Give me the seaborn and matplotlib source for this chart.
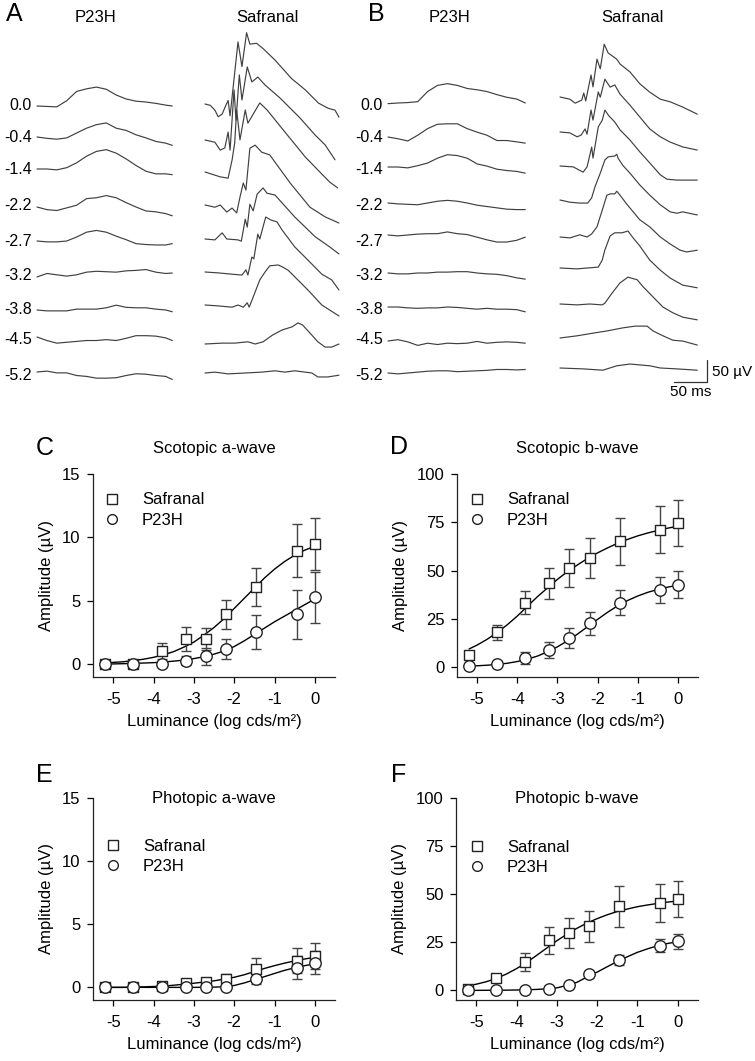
import numpy as np
import pandas as pd
import matplotlib
matplotlib.use('Agg')
import matplotlib.pyplot as plt
from matplotlib.lines import Line2D
import seaborn as sns

sns.set_style('ticks')
plt.rcParams['font.family'] = ['Liberation Sans', 'DejaVu Sans']
plt.rcParams['axes.unicode_minus'] = False
plt.rcParams['text.color'] = 'black'
plt.rcParams['axes.labelcolor'] = 'black'
plt.rcParams['xtick.color'] = 'black'
plt.rcParams['ytick.color'] = 'black'

W, H, DPI = 755, 1061, 100

# ---------------- ERG traces (time in ms, amplitude in uV) ----------------
intensities = ['0.0', '-0.4', '-1.4', '-2.2', '-2.7', '-3.2', '-3.8', '-4.5', '-5.2']

# P23H traces share one time grid
a_p23h_t = [0, 15, 30, 45, 60, 75, 90, 105, 120, 135, 150, 165, 180, 195, 205]
a_p23h_v = [
    [0, -1, -2, 12, 33, 39, 43, 38, 25, 16, 11, 9, 6, 2, 0],
    [0, -3, -5, -2, 9, 20, 28, 32, 20, 15, 5, -2, -10, -14, -19],
    [0, 0, -2, 3, 14, 29, 40, 44, 36, 23, 8, -5, -11, -11, -13],
    [0, -6, -8, -2, 4, 19, 21, 26, 21, 10, 0, -9, -11, -15, -20],
    [0, -2, -2, 0, 9, 20, 24, 20, 11, 3, -6, -8, -9, -9, -6],
    [0, 8, 5, 2, 5, 11, 13, 12, 11, 14, 15, 17, 11, 8, 9],
    [0, -2, -2, -2, 2, 2, 2, 5, 11, 6, 5, 5, 2, 0, -4],
    [0, -8, -14, -12, -10, -8, -8, -6, -8, -3, 3, 3, 2, -2, -8],
    [0, 2, -2, -2, -8, -10, -14, -14, -13, -8, -4, -5, -8, -10, -17],
]
b_p23h_t = [0, 15, 30, 45, 60, 75, 90, 105, 120, 135, 150, 165, 180, 195, 208]
b_p23h_v = [
    [-1.5, 0, 1, 3, 26, 40, 44, 40, 33, 30, 26, 19, 13, 9, 0],
    [0, -4, -9, 4, 19, 29, 30, 30, 19, 11, 4, -8, -8, -11, -14],
    [0, 0, -2, 3, 9, 20, 28, 26, 20, 7, 2, -5, -8, -10, -14],
    [0, -2, -3, -4, 0, 4, 6, 4, 0, -5, -8, -11, -14, -15, -15],
    [0, -2, 0, 2, 3, 3, 7, 3, 1, -5, -11, -16, -16, -12, -5],
    [0, -2, -2, 0, 0, 2, 2, 3, 3, 0, -2, -3, -6, -11, -14],
    [0, 0, -2, -3, -2, -2, 0, -1, -3, -5, -3, -5, -5, -6, -11],
    [0, 3, -2, -10, -5, -8, -5, -6, -5, -1, -5, -3, -2, -3, -5],
    [0, -2, 0, 2, 4, 5, 5, 3, 4, 5, 6, 8, 8, 7, 8],
]

# Safranal traces have oscillatory potentials, so each has its own sample times
a_safr_t = [
    [0, 8, 15, 20, 26, 31, 35, 38, 50, 56, 63, 68, 78, 88, 106, 131, 152, 172, 187, 197, 203],
    [0, 15, 23, 30, 35, 38, 44, 47, 52, 56, 64, 71, 80, 91, 114, 144, 167, 182, 197],
    [0, 23, 35, 41, 45, 48, 53, 61, 65, 83, 94, 121, 152, 174, 189, 201],
    [0, 15, 23, 33, 41, 48, 53, 58, 62, 68, 76, 86, 98, 129, 159, 182, 203],
    [0, 15, 26, 33, 50, 55, 61, 64, 68, 73, 79, 88, 94, 106, 136, 167, 189, 203],
    [0, 20, 41, 56, 62, 65, 71, 74, 80, 83, 92, 100, 109, 117, 136, 156, 177, 192, 203],
    [0, 20, 41, 50, 58, 64, 67, 73, 83, 91, 98, 111, 118, 126, 136, 156, 177, 203],
    [0, 26, 45, 65, 76, 88, 102, 117, 132, 141, 148, 159, 171, 182, 192, 203],
    [0, 15, 35, 61, 86, 106, 121, 136, 162, 171, 186, 203],
]
a_safr_v = [
    [0, -3, -14, -29, -23, -5, 8, -27, 141, 85, 162, 136, 138, 126, 100, 58, 32, 2, -10, -14, -30],
    [0, -5, -23, -18, 18, -23, 114, 45, 148, 91, 166, 132, 143, 125, 95, 50, 11, -11, -45],
    [0, -11, -14, 27, 66, 141, 73, 141, 111, 157, 141, 91, 34, 0, -23, -36],
    [0, -5, 0, -16, -7, -18, 18, 50, 34, 129, 136, 120, 114, 50, -5, -27, -41],
    [0, -2, 14, 0, -2, -5, 45, 27, 79, 64, 102, 116, 104, 100, 50, 5, -18, -34],
    [0, -2, -5, -7, 5, -7, 34, 30, 86, 75, 125, 118, 114, 95, 57, 27, -5, -18, -41],
    [0, -2, -5, 0, -5, 5, -5, 18, 57, 75, 89, 91, 86, 79, 64, 34, 0, -25],
    [0, 2, 2, 5, 0, 5, 20, 32, 39, 48, 43, 25, 5, -7, -7, 0],
    [0, 2, -2, 0, 2, 5, 2, 5, 0, -9, -9, -5],
]
b_safr_t = [
    [0, 15, 23, 33, 36, 39, 47, 50, 56, 61, 67, 73, 86, 91, 106, 121, 136, 152, 167, 186, 208],
    [0, 15, 26, 32, 38, 41, 47, 50, 58, 61, 68, 76, 83, 91, 106, 121, 136, 152, 167, 186, 208],
    [0, 20, 35, 41, 48, 50, 58, 64, 68, 74, 83, 91, 106, 121, 136, 152, 162, 177, 208],
    [0, 15, 30, 42, 48, 53, 61, 68, 73, 83, 86, 88, 95, 106, 121, 136, 152, 167, 177, 186, 208],
    [0, 15, 30, 41, 48, 56, 64, 71, 76, 83, 86, 91, 101, 121, 136, 152, 167, 182, 192, 208],
    [0, 26, 41, 58, 64, 68, 76, 83, 94, 103, 111, 121, 136, 152, 167, 186, 208],
    [0, 26, 45, 64, 68, 79, 91, 103, 117, 126, 141, 156, 171, 186, 208],
    [0, 26, 50, 71, 95, 114, 132, 141, 156, 171, 186, 208],
    [0, 35, 65, 86, 106, 121, 136, 152, 177, 208],
]
b_safr_v = [
    [0, -5, -14, -7, 9, -9, 50, 23, 86, 64, 120, 100, 86, 75, 57, 30, 11, -5, -11, -23, -39],
    [0, -2, -11, -7, 7, -5, 50, 27, 91, 79, 120, 102, 107, 86, 61, 34, 7, -11, -23, -34, -41],
    [0, -2, -14, -2, 43, 18, 89, 104, 127, 114, 100, 82, 59, 32, 7, -20, -30, -32, -32],
    [0, -5, -7, -7, 5, 30, 61, 91, 98, 100, 104, 95, 79, 61, 34, 11, -11, -27, -30, -27, -34],
    [0, -2, 5, 0, 7, 23, 61, 95, 98, 98, 104, 95, 75, 39, 23, 0, -16, -30, -34, -30],
    [0, -2, 0, 2, 18, 41, 73, 80, 80, 84, 68, 50, 18, -5, -23, -39, -45],
    [0, -2, 0, -2, 2, 25, 48, 61, 55, 39, 16, -7, -20, -30, -36],
    [0, 5, 11, 16, 23, 27, 27, 16, 5, -5, -7, -16],
    [0, -2, -5, 5, 9, 7, 5, 0, -2, -5],
]

# ---------------- intensity-response data ----------------
lum = [-5.2, -4.5, -3.8, -3.2, -2.7, -2.2, -1.45, -0.45, 0.0]

scot_a_safr = [0.0, 0.0, 1.05, 2.0, 2.0, 3.93, 6.1, 8.97, 9.47]
scot_a_safr_err = [0.1, 0.1, 0.65, 0.95, 0.9, 1.15, 1.5, 2.05, 2.05]
scot_a_p23h = [0.0, 0.0, 0.0, 0.3, 0.63, 1.2, 2.53, 3.93, 5.28]
scot_a_p23h_err = [0.05, 0.05, 0.1, 0.35, 0.65, 0.8, 1.35, 1.9, 2.0]

scot_b_safr = [6.4, 18.1, 33.5, 43.5, 51.3, 56.5, 65.1, 71.2, 74.6]
scot_b_safr_err = [2.2, 3.8, 6.0, 8.0, 9.7, 10.5, 12.0, 12.0, 12.0]
scot_b_p23h = [0.7, 1.7, 4.7, 9.0, 15.0, 22.8, 33.5, 40.1, 42.7]
scot_b_p23h_err = [0.5, 0.5, 3.0, 4.1, 5.1, 6.0, 6.3, 6.7, 6.9]

phot_a_safr = [0.0, 0.0, 0.1, 0.37, 0.45, 0.66, 1.45, 2.12, 2.5]
phot_a_safr_err = [0.02, 0.02, 0.05, 0.1, 0.15, 0.4, 0.85, 1.0, 1.05]
phot_a_p23h = [0.0, 0.0, 0.0, 0.0, 0.0, 0.0, 0.7, 1.56, 1.96]
phot_a_p23h_err = [0.02, 0.02, 0.02, 0.02, 0.05, 0.05, 0.4, 0.9, 0.9]

phot_b_safr = [0.5, 6.4, 14.7, 26.0, 29.8, 33.3, 43.7, 45.4, 47.5]
phot_b_safr_err = [1.0, 1.5, 4.6, 6.9, 7.6, 8.0, 10.5, 10.0, 9.3]
phot_b_p23h = [0.0, 0.0, 0.3, 0.8, 2.6, 8.5, 15.6, 23.2, 25.5]
phot_b_p23h_err = [0.2, 0.2, 0.3, 0.5, 0.8, 1.0, 2.6, 3.4, 4.0]

# fitted curves
fit_x = [-5.2, -5.0, -4.75, -4.5, -4.25, -4.0, -3.75, -3.5, -3.25, -3.0, -2.75,
         -2.5, -2.25, -2.0, -1.75, -1.5, -1.25, -1.0, -0.75, -0.5, -0.25, 0.0]
fit_scot_a_safr = [0.1, 0.15, 0.2, 0.3, 0.4, 0.55, 0.75, 1.0, 1.35, 1.75, 2.3,
                   2.9, 3.6, 4.4, 5.2, 6.0, 6.8, 7.5, 8.1, 8.6, 9.0, 9.3]
fit_scot_a_p23h = [0.02, 0.03, 0.05, 0.07, 0.1, 0.13, 0.18, 0.25, 0.33, 0.45, 0.6,
                   0.8, 1.05, 1.4, 1.85, 2.35, 2.85, 3.35, 3.8, 4.25, 4.7, 5.15]
fit_scot_b_safr = [9.5, 11.5, 14.5, 18, 22, 26.5, 31.5, 36.5, 41, 45.5, 49.5,
                   53, 56.3, 59.2, 61.8, 64.2, 66.2, 68, 69.5, 70.8, 72, 73]
fit_scot_b_p23h = [0.7, 0.8, 1.1, 1.5, 2.1, 3.0, 4.2, 5.8, 8.0, 10.6, 13.7,
                   17.2, 21, 24.8, 28.5, 31.8, 34.6, 36.9, 38.8, 40.3, 41.5, 42.5]
fit_phot_a_safr = [0.0, 0.0, 0.0, 0.02, 0.04, 0.07, 0.1, 0.17, 0.25, 0.33, 0.42,
                   0.52, 0.65, 0.8, 1.0, 1.25, 1.5, 1.72, 1.92, 2.1, 2.25, 2.38]
fit_phot_a_p23h = [0, 0, 0, 0, 0, 0, 0, 0, 0, 0, 0.01,
                   0.02, 0.05, 0.15, 0.35, 0.6, 0.85, 1.1, 1.35, 1.55, 1.72, 1.87]
fit_phot_b_safr = [2.5, 3.2, 4.5, 6.2, 8.5, 11.3, 14.5, 18.2, 22, 25.8, 29.2,
                   32.3, 35, 37.3, 39.3, 41, 42.3, 43.5, 44.4, 45.2, 45.9, 46.5]
fit_phot_b_p23h = [0.0, 0.0, 0.05, 0.08, 0.12, 0.2, 0.3, 0.5, 0.8, 1.3, 2.6,
                   4.2, 7.0, 9.5, 12.3, 15.0, 17.5, 19.8, 21.6, 23.2, 24.4, 25.3]

# ---------------- layout (pixels) ----------------
PX_MS = 0.66   # px per ms (50 ms scale bar = 33 px)
PX_UV = 0.44   # px per uV (50 uV scale bar = 22 px)
label_y = [105, 137, 169, 206, 241, 276, 310, 339, 375]
columns = [
    (37, [106, 137, 169, 207, 241, 277, 310, 337, 372], [a_p23h_t] * 9, a_p23h_v),
    (205, [104, 140, 172, 205, 239, 272, 305, 344, 373], a_safr_t, a_safr_v),
    (388, [103, 137, 167, 203, 235, 273, 307, 341, 373], [b_p23h_t] * 9, b_p23h_v),
    (560, [97, 132, 166, 200, 237, 268, 304, 338, 368], b_safr_t, b_safr_v),
]
TRACE_COLOR = '#404040'

fig = plt.figure(figsize=(W / DPI, H / DPI), dpi=DPI)
base = fig.add_axes([0, 0, 1, 1])
base.set_xlim(0, W)
base.set_ylim(H, 0)
base.axis('off')

for x0, starts, times, values in columns:
    for y0, t, v in zip(starts, times, values):
        df = pd.DataFrame({'x': x0 + np.array(t) * PX_MS,
                           'y': y0 - np.array(v) * PX_UV})
        sns.lineplot(data=df, x='x', y='y', ax=base, color=TRACE_COLOR,
                     lw=0.85, sort=False, estimator=None)

for lab, y in zip(intensities, label_y):
    base.text(32, y, lab, ha='right', va='center', fontsize=11.5)
    base.text(383, y, lab, ha='right', va='center', fontsize=11.5)

for x, s in [(95, 'P23H'), (267, 'Safranal'), (450, 'P23H'), (632, 'Safranal')]:
    base.text(x, 18, s, ha='center', va='center', fontsize=12)

# scale bar: 50 ms / 50 uV
sb_x, sb_y = 707, 382
sb = pd.DataFrame({'x': [sb_x - 50 * PX_MS, sb_x, sb_x],
                   'y': [sb_y, sb_y, sb_y - 50 * PX_UV]})
sns.lineplot(data=sb, x='x', y='y', ax=base, color='#333333', lw=0.9,
             sort=False, estimator=None)
base.text(sb_x + 5, sb_y - 10, '50 \u00b5V', ha='left', va='center', fontsize=11)
base.text(sb_x - 25 * PX_MS, sb_y + 10, '50 ms', ha='center', va='center', fontsize=11)

for s, x, y in [('A', 14, 14), ('B', 376, 14), ('C', 45, 448), ('D', 399, 447),
                ('E', 44, 775), ('F', 399, 775)]:
    base.text(x, y, s, ha='center', va='center', fontsize=18)


def px_box(left, top, right, bottom):
    return [left / W, 1 - bottom / H, (right - left) / W, (bottom - top) / H]


def draw_panel(box, title, title_y, safr, safr_err, p23h, p23h_err,
               fit_s, fit_p, ylim, yticks, leg_xy):
    ax = fig.add_axes(box)
    ax.set_facecolor('none')
    sns.lineplot(x=fit_x, y=fit_s, ax=ax, color='black', lw=1.0, estimator=None)
    sns.lineplot(x=fit_x, y=fit_p, ax=ax, color='black', lw=1.0, estimator=None)
    ax.errorbar(lum, safr, yerr=safr_err, fmt='none', ecolor='#444444',
                elinewidth=1.0, capsize=3.5, capthick=1.0, zorder=2)
    ax.errorbar(lum, p23h, yerr=p23h_err, fmt='none', ecolor='#444444',
                elinewidth=1.0, capsize=3.5, capthick=1.0, zorder=2)
    sns.scatterplot(x=lum, y=safr, ax=ax, marker='s', s=62, color='white',
                    edgecolor='#222222', linewidth=1.0, zorder=3)
    sns.scatterplot(x=lum, y=p23h, ax=ax, marker='o', s=68, color='white',
                    edgecolor='#222222', linewidth=1.0, zorder=3)
    ax.set_xlim(-5.5, 0.5)
    ax.set_ylim(*ylim)
    ax.set_xticks([-5, -4, -3, -2, -1, 0])
    ax.set_xticklabels(['-5', '-4', '-3', '-2', '-1', '0'])
    ax.set_yticks(yticks)
    ax.tick_params(direction='out', length=4, width=0.9, labelsize=12, pad=5)
    ax.tick_params(axis='x', pad=7)
    sns.despine(ax=ax)
    for sp in ['left', 'bottom']:
        ax.spines[sp].set_linewidth(0.9)
        ax.spines[sp].set_color('#222222')
    ax.set_xlabel('Luminance (log cds/m\u00b2)', fontsize=12, labelpad=5)
    ax.set_ylabel('Amplitude (\u00b5V)', fontsize=12, labelpad=6)
    ax.text(0.5, title_y, title, transform=ax.transAxes, ha='center',
            va='center', fontsize=12)
    handles = [Line2D([], [], ls='none', marker='s', ms=6.5, mfc='white',
                      mec='#222222', mew=1.0),
               Line2D([], [], ls='none', marker='o', ms=7, mfc='white',
                      mec='#222222', mew=1.0)]
    ax.legend(handles, ['Safranal', 'P23H'], loc='upper left',
              bbox_to_anchor=leg_xy, frameon=False, fontsize=12,
              handlelength=1.0, handletextpad=1.3, borderpad=0,
              borderaxespad=0, labelspacing=0.33)
    return ax


draw_panel(px_box(93, 474, 335, 677), 'Scotopic a-wave', 1 + 25 / 203,
           scot_a_safr, scot_a_safr_err, scot_a_p23h, scot_a_p23h_err,
           fit_scot_a_safr, fit_scot_a_p23h, (-1, 15), [0, 5, 10, 15],
           (0.044, 0.909))
draw_panel(px_box(457, 474, 698, 677), 'Scotopic b-wave', 1 + 25 / 203,
           scot_b_safr, scot_b_safr_err, scot_b_p23h, scot_b_p23h_err,
           fit_scot_b_safr, fit_scot_b_p23h, (-5, 100), [0, 25, 50, 75, 100],
           (0.048, 0.909))
draw_panel(px_box(93, 798, 335, 1000), 'Photopic a-wave', 1.0,
           phot_a_safr, phot_a_safr_err, phot_a_p23h, phot_a_p23h_err,
           fit_phot_a_safr, fit_phot_a_p23h, (-1, 15), [0, 5, 10, 15],
           (0.048, 0.799))
draw_panel(px_box(456, 798, 698, 1000), 'Photopic b-wave', 1.0,
           phot_b_safr, phot_b_safr_err, phot_b_p23h, phot_b_p23h_err,
           fit_phot_b_safr, fit_phot_b_p23h, (-5, 100), [0, 25, 50, 75, 100],
           (0.052, 0.794))

fig.savefig('out.png', dpi=DPI)
